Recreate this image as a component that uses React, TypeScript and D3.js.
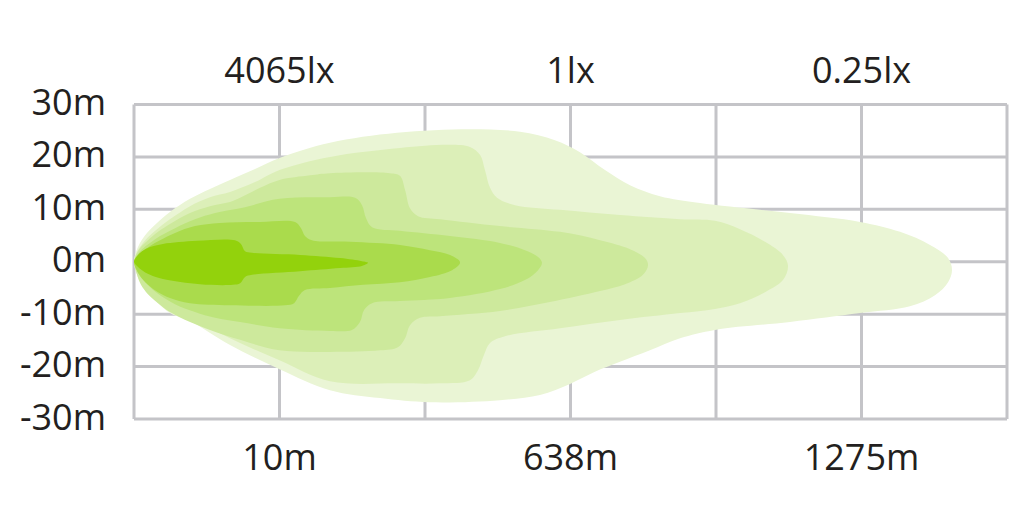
import React from "react";
import * as d3 from "d3";

// x: distance in grid columns (0..6), y: lateral offset in metres
const yTicks = [30, 20, 10, 0, -10, -20, -30];
const xGrid = [0, 1, 2, 3, 4, 5, 6];
const bottomLabels = ["10m", "638m", "1275m"];
const topLabels = ["4065lx", "1lx", "0.25lx"];
const labelColumns = [1, 3, 5];

const c1Top: [number, number][] = [
  [0, 0], [0.014, 1.9], [0.041, 3.6], [0.089, 5.5], [0.158, 7.4], [0.247, 9.5], [0.385, 12.0],
  [0.522, 13.9], [0.66, 15.6], [0.832, 17.7], [1.0, 19.8], [1.347, 22.7], [1.808, 24.6],
  [2.309, 25.3], [2.653, 24.8], [2.893, 23.2], [3.065, 20.9], [3.237, 17.5], [3.409, 14.6],
  [3.615, 12.5], [3.89, 11.2], [4.509, 9.3], [4.99, 7.6], [5.265, 5.7], [5.471, 3.2],
  [5.595, 0.7], [5.622, -1.6],
];
const c1Bottom: [number, number][] = [
  [5.595, -3.9], [5.505, -6.4], [5.333, -8.5], [4.99, -9.8], [4.509, -11.5], [3.993, -13.0],
  [3.753, -14.6], [3.546, -16.9], [3.34, -19.1], [3.168, -21.0], [2.997, -23.3], [2.79, -25.4],
  [2.515, -26.4], [2.034, -26.8], [1.691, -26.0], [1.347, -24.5], [1.0, -20.5], [0.66, -15.9],
  [0.385, -11.3], [0.247, -9.8], [0.158, -7.7], [0.089, -5.8], [0.041, -3.7], [0.014, -2.0],
];

const c2Top: [number, number][] = [
  [0, 0], [0.014, 1.5], [0.041, 2.8], [0.089, 4.5], [0.158, 6.2], [0.247, 8.1], [0.385, 10.6],
  [0.522, 12.3], [0.66, 13.3], [0.832, 15.2], [1.0, 17.5], [1.347, 20.0], [1.828, 21.7],
  [2.172, 22.3], [2.309, 21.9], [2.378, 20.4], [2.412, 17.5], [2.447, 14.1], [2.495, 12.2],
  [2.619, 10.8], [2.928, 9.9], [3.34, 8.9], [3.753, 8.1], [3.993, 7.8], [4.165, 6.2],
  [4.337, 3.8], [4.46, 1.3], [4.495, -0.8],
];
const c2Bottom: [number, number][] = [
  [4.46, -3.5], [4.337, -5.8], [4.165, -7.9], [3.993, -9.0], [3.753, -9.8], [3.34, -11.1],
  [2.928, -12.7], [2.55, -14.2], [2.447, -15.5], [2.405, -17.8], [2.364, -20.7], [2.309, -22.6],
  [2.103, -23.2], [1.828, -23.2], [1.347, -22.8], [1.0, -18.8], [0.66, -14.6], [0.385, -10.6],
  [0.247, -8.5], [0.158, -6.7], [0.089, -5.0], [0.041, -3.1], [0.014, -1.6],
];

const c3Top: [number, number][] = [
  [0, 0], [0.021, 1.7], [0.048, 2.8], [0.096, 4.1], [0.165, 5.7], [0.247, 7.2], [0.385, 9.3],
  [0.522, 10.6], [0.66, 11.4], [0.729, 12.2], [0.866, 14.1], [1.0, 15.6], [1.21, 16.5],
  [1.347, 16.9], [1.759, 16.9], [1.828, 16.4], [1.863, 13.7], [1.897, 10.2], [1.952, 8.7],
  [2.103, 8.1], [2.515, 6.8], [2.928, 5.7], [3.203, 4.1], [3.409, 2.4], [3.512, 0.7], [3.533, -0.6],
];
const c3Bottom: [number, number][] = [
  [3.498, -2.5], [3.375, -4.3], [3.203, -5.6], [2.859, -7.7], [2.515, -9.4], [2.103, -10.4],
  [1.966, -10.7], [1.897, -12.1], [1.863, -14.6], [1.814, -16.3], [1.691, -16.9], [1.347, -17.2],
  [1.0, -16.9], [0.729, -14.9], [0.522, -13.0], [0.385, -11.5], [0.247, -9.6], [0.165, -7.9],
  [0.096, -6.2], [0.048, -4.4], [0.021, -2.5],
];

const c4Top: [number, number][] = [
  [0, 0], [0.021, 1.3], [0.055, 2.4], [0.11, 3.6], [0.179, 4.9], [0.282, 6.4], [0.419, 8.1],
  [0.557, 9.3], [0.729, 10.2], [1.0, 12.0], [1.347, 12.3], [1.519, 12.2], [1.567, 10.8],
  [1.595, 8.3], [1.636, 6.6], [1.828, 5.9], [2.172, 4.9], [2.515, 3.6], [2.687, 2.2],
  [2.777, 0.9], [2.804, -0.2],
];
const c4Bottom: [number, number][] = [
  [2.777, -1.6], [2.687, -3.5], [2.515, -5.2], [2.172, -6.9], [1.828, -7.5], [1.636, -7.9],
  [1.581, -9.2], [1.553, -11.5], [1.498, -13.0], [1.347, -13.2], [1.0, -12.7], [0.729, -11.5],
  [0.557, -10.7], [0.419, -9.6], [0.282, -8.1], [0.179, -6.4], [0.11, -4.8], [0.055, -3.1],
  [0.021, -1.6],
];

const c5Top: [number, number][] = [
  [0, 0], [0.021, 0.9], [0.055, 1.9], [0.11, 3.0], [0.179, 4.1], [0.282, 5.5], [0.419, 6.8],
  [0.591, 7.4], [0.866, 7.6], [1.107, 7.6], [1.148, 6.4], [1.175, 4.9], [1.223, 4.1],
  [1.485, 3.8], [1.828, 3.2], [2.034, 2.2], [2.172, 1.3], [2.241, -0.1],
];
const c5Bottom: [number, number][] = [
  [2.186, -1.6], [2.034, -2.9], [1.828, -3.9], [1.574, -4.4], [1.347, -5.0], [1.175, -5.4],
  [1.134, -6.5], [1.1, -7.9], [1.038, -8.3], [0.66, -8.3], [0.385, -7.9], [0.247, -6.9],
  [0.165, -5.8], [0.096, -4.4], [0.041, -2.7], [0.014, -1.4],
];

const coreTop: [number, number][] = [
  [0, 0], [0.021, 1.1], [0.055, 2.0], [0.11, 2.8], [0.199, 3.4], [0.433, 4.0], [0.694, 4.1],
  [0.735, 3.4], [0.763, 2.0], [0.811, 1.7], [1.141, 1.3], [1.416, 0.7], [1.567, 0.1], [1.608, -0.2],
];
const coreBottom: [number, number][] = [
  [1.567, -0.8], [1.416, -1.2], [1.141, -1.8], [0.811, -2.5], [0.763, -2.9], [0.729, -4.1],
  [0.68, -4.4], [0.454, -4.3], [0.199, -3.3], [0.11, -2.5], [0.055, -1.6], [0.021, -0.8],
];

const contours = [
  { top: c1Top, bottom: c1Bottom, color: "#eaf5d5" },
  { top: c2Top, bottom: c2Bottom, color: "#dcefb8" },
  { top: c3Top, bottom: c3Bottom, color: "#cde99c" },
  { top: c4Top, bottom: c4Bottom, color: "#bde47b" },
  { top: c5Top, bottom: c5Bottom, color: "#aadb4c" },
  { top: coreTop, bottom: coreBottom, color: "#93d20c" },
];

const W = 1024;
const H = 523;
const left = 134;
const right = 1007;
const top = 104.5;
const bottom = 419;

export default function App() {
  const x = d3.scaleLinear().domain([0, 6]).range([left, right]);
  const y = d3.scaleLinear().domain([-30, 30]).range([bottom, top]);
  const shape = d3
    .line<[number, number]>()
    .x((d) => x(d[0]))
    .y((d) => y(d[1]))
    .curve(d3.curveCatmullRomClosed.alpha(0.5));
  const font = "'Open Sans', sans-serif";
  const textColor = "#231f20";
  const gridColor = "#c4c4c8";

  return (
    <div style={{ position: "absolute", left: 0, top: 0 }}>
      <svg width={W} height={H} style={{ display: "block", background: "#ffffff" }}>
        <g>
          {yTicks.map((t) => (
            <line key={"h" + t} x1={left} x2={right} y1={y(t)} y2={y(t)} stroke={gridColor} strokeWidth={3} />
          ))}
          {xGrid.map((t) => (
            <line key={"v" + t} x1={x(t)} x2={x(t)} y1={top} y2={bottom} stroke={gridColor} strokeWidth={3} />
          ))}
        </g>
        <g>
          {contours.map((c, i) => (
            <path key={i} d={shape([...c.top, ...c.bottom]) || ""} fill={c.color} />
          ))}
        </g>
        <g fontFamily={font} fontSize={36} fill={textColor}>
          {yTicks.map((t) => (
            <text key={"yl" + t} x={106} y={y(t) + 10.5} textAnchor="end">
              {t + "m"}
            </text>
          ))}
          {topLabels.map((s, i) => (
            <text key={"tl" + i} x={x(labelColumns[i])} y={83} textAnchor="middle">
              {s}
            </text>
          ))}
          {bottomLabels.map((s, i) => (
            <text key={"bl" + i} x={x(labelColumns[i])} y={470} textAnchor="middle">
              {s}
            </text>
          ))}
        </g>
      </svg>
    </div>
  );
}
